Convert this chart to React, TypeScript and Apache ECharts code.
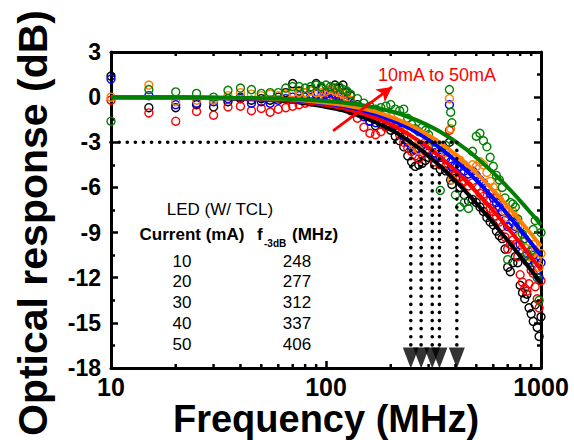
import React, { useEffect, useRef } from 'react';
import * as echarts from 'echarts';

// Measured frequencies (MHz)
const freqs = [
  10, 15, 20, 25, 30, 35, 40, 45, 50, 55,
  60, 65, 70, 75, 80, 85, 90, 95, 100, 105,
  110, 115, 120, 125, 130, 140, 150, 160, 170, 180,
  190, 200, 210, 220, 230, 240, 250, 260, 270, 280,
  290, 300, 320, 340, 360, 375, 380, 385, 400, 420,
  440, 460, 480, 500, 520, 540, 560, 580, 600, 620,
  640, 660, 680, 700, 720, 740, 760, 780, 800, 820,
  840, 860, 880, 900, 920, 940, 960, 980, 1000,
];

// Measured responses (dB) per drive current
const data10mA = [
  1.4, -0.7, -0.7, -0.5, -0.65, -0.3, -0.1, -0.2, -0.1, -0.2,
  0.0, 0.3, 0.9, 0.4, 0.3, 0.5, 0.9, 0.6, 0.4, 0.5,
  0.8, 0.6, 0.8, 0.3, 0.1, -0.5, -1.0, -1.6, -1.9, -1.8,
  -1.9, -2.2, -2.6, -2.9, -3.3, -3.9, -4.3, -4.6, -4.5, -4.4,
  -4.2, -4.0, -4.5, -4.8, -4.9, -3.0, -5.5, -5.8, -5.4, -6.0,
  -6.5, -6.9, -6.8, -7.0, -7.3, -7.6, -8.0, -8.3, -8.5, -8.9,
  -9.2, -9.4, -10.1, -11.3, -11.6, -11.0, -10.6, -11.0, -12.5, -13.0,
  -13.4, -13.1, -14.0, -14.4, -14.9, -13.8, -15.3, -15.9, -14.6,
];
const data20mA = [
  -0.2, -1.05, -1.6, -0.95, -1.2, -0.65, -0.6, -0.9, -0.75, -1.0,
  -0.8, -0.7, -0.6, -0.5, -0.4, -0.3, -0.2, -0.2, -0.1, 0.0,
  0.1, 0.1, -0.2, -0.6, -0.9, -1.4, -2.0, -2.4, -2.5, -2.3,
  -2.0, -1.9, -2.1, -2.5, -3.0, -3.4, -3.6, -3.9, -4.1, -3.8,
  -3.6, -3.7, -4.3, -4.5, -4.6, -2.2, -4.8, -5.2, -5.0, -5.3,
  -5.6, -5.9, -5.7, -6.0, -6.4, -6.6, -6.9, -7.4, -7.6, -7.9,
  -8.3, -8.6, -9.3, -10.1, -9.8, -9.5, -9.8, -10.6, -11.8, -12.3,
  -12.7, -12.9, -12.4, -11.5, -11.7, -12.6, -13.4, -14.0, -12.2,
];
const data30mA = [
  1.2, 0.1, -0.5, -0.4, -0.3, -0.1, 0.0, -0.4, -0.3, -0.4,
  -0.2, -0.1, 0.0, 0.1, 0.0, 0.1, 0.2, 0.1, 0.2, 0.3,
  0.2, 0.0, -0.1, -0.3, -0.5, -0.9, -1.3, -1.6, -1.7, -1.6,
  -1.5, -1.6, -1.9, -2.2, -2.6, -3.0, -3.3, -3.5, -3.4, -3.2,
  -3.0, -3.2, -3.7, -4.0, -4.1, -0.5, -4.3, -4.6, -4.5, -4.6,
  -4.9, -5.1, -4.9, -5.2, -5.5, -5.7, -6.0, -6.4, -6.7, -7.0,
  -7.3, -7.6, -8.2, -8.6, -8.4, -8.3, -8.6, -9.2, -9.8, -10.3,
  -10.6, -10.9, -10.8, -10.3, -10.5, -11.0, -11.5, -12.0, -11.0,
];
const data40mA = [
  0.0, 0.8, -0.3, -0.2, -0.2, 0.1, 0.3, 0.2, 0.1, 0.2,
  0.1, 0.2, 0.3, 0.3, 0.3, 0.4, 0.3, 0.3, 0.4, 0.5,
  0.4, 0.3, 0.2, 0.0, -0.2, -0.6, -1.0, -1.2, -1.3, -1.2,
  -1.1, -1.3, -1.6, -1.9, -2.3, -2.7, -3.0, -3.3, -3.5, -3.3,
  -3.0, -2.8, -3.3, -3.6, -3.7, -0.1, -2.1, -5.5, -4.0, -4.2,
  -4.5, -4.8, -4.5, -4.6, -4.3, -4.5, -5.0, -5.6, -6.0, -6.4,
  -6.8, -7.1, -7.6, -8.0, -7.8, -7.6, -8.0, -8.6, -9.2, -9.6,
  -10.0, -10.4, -10.6, -10.2, -9.8, -10.2, -10.8, -11.3, -10.4,
];
const data50mA = [
  -1.6, 0.5, 0.35, 0.25, 0.0, 0.45, 0.6, 0.5, 0.25, 0.3,
  0.3, 0.6, 0.7, 0.7, 0.6, 0.7, 0.8, 0.7, 0.8, 0.7,
  0.6, 0.7, 0.5, 0.4, 0.2, -0.1, -0.4, -0.6, -0.8, -0.7,
  -0.6, -0.5, -0.8, -0.9, -0.8, -1.4, -1.8, -2.1, -2.3, -2.0,
  -2.2, -2.5, -3.0, -6.2, -3.2, 0.5, -1.0, -1.7, -6.5, -7.3,
  -7.0, -7.4, -3.6, -2.6, -2.4, -2.9, -3.3, -4.0, -4.6, -5.2,
  -5.5, -6.0, -6.7, -10.8, -7.0, -7.1, -7.3, -8.1, -8.6, -9.1,
  -9.4, -10.4, -11.0, -10.2, -8.8, -8.2, -12.0, -13.5, -9.0,
];

// Fitted curves (dB)
const fitFreqs = [10, 20, 50, 100, 150, 200, 250, 300, 350, 400, 450, 500, 600, 700, 800, 900, 1000];
const fit10mA = [0, -0.03, -0.17, -0.65, -1.36, -2.17, -3.04, -3.91, -4.76, -5.57, -6.33, -7.05, -8.36, -9.53, -10.57, -11.51, -12.37];
const fit20mA = [0, -0.02, -0.14, -0.53, -1.12, -1.82, -2.59, -3.37, -4.14, -4.89, -5.61, -6.29, -7.55, -8.68, -9.7, -10.63, -11.47];
const fit30mA = [0, -0.02, -0.11, -0.42, -0.9, -1.5, -2.15, -2.84, -3.54, -4.22, -4.89, -5.52, -6.72, -7.81, -8.79, -9.69, -10.52];
const fit40mA = [0, -0.02, -0.09, -0.37, -0.78, -1.31, -1.9, -2.53, -3.18, -3.82, -4.45, -5.05, -6.2, -7.25, -8.22, -9.1, -9.91];
const fit50mA = [0, -0.01, -0.07, -0.26, -0.56, -0.94, -1.4, -1.89, -2.41, -2.95, -3.48, -4.01, -5.03, -5.99, -6.89, -7.72, -8.49];

// Table
const currents = [10, 20, 30, 40, 50];
const f3dB = [248, 277, 312, 337, 406];

// Axis
const xMinorTicks = [20, 30, 40, 50, 60, 70, 80, 90, 200, 300, 400, 500, 600, 700, 800, 900];
const yMin = -18;
const yMax = 3;
const yInterval = 3;

const FONT = '"Liberation Sans", Arial, Helvetica, sans-serif';

export default function App() {
  const ref = useRef<HTMLDivElement>(null);

  useEffect(() => {
    document.body.style.margin = '0';
    if (!ref.current) return;
    const chart = echarts.init(ref.current, null, { renderer: 'svg' });

    const colors = ['#000000', '#ff0000', '#0000ff', '#ff8000', '#008000'];
    const measured = [data10mA, data20mA, data30mA, data40mA, data50mA];
    const fits = [fit10mA, fit20mA, fit30mA, fit40mA, fit50mA];

    const scatterSeries = measured.map((d, k) => ({
      type: 'scatter',
      name: currents[k] + ' mA data',
      xAxisIndex: 0,
      yAxisIndex: 0,
      data: freqs.map((f, i) => [f, d[i]]),
      symbol: 'circle',
      symbolSize: 8,
      itemStyle: { color: 'rgba(255,255,255,0)', borderColor: colors[k], borderWidth: 1.4, opacity: 1 },
      z: 2,
    }));

    const fitSeries = fits.map((d, k) => ({
      type: 'line',
      name: currents[k] + ' mA fit',
      xAxisIndex: 0,
      yAxisIndex: 0,
      data: fitFreqs.map((f, i) => [f, d[i]]),
      showSymbol: false,
      smooth: true,
      lineStyle: { color: colors[k], width: 4 },
      z: 3,
    }));

    const dotStyle = { color: '#000', width: 3.6, type: [0.1, 8], cap: 'round' };

    const verticalSeries = f3dB.map((f) => ({
      type: 'line',
      data: [[f, -3], [f, -16.8]],
      showSymbol: false,
      lineStyle: dotStyle,
      z: 4,
    }));

    const option: any = {
      animation: false,
      grid: { left: 111, right: 33, top: 52, bottom: 72, containLabel: false },
      xAxis: [
        {
          type: 'log', logBase: 10, min: 10, max: 1000, position: 'bottom',
          axisLine: { show: true, onZero: false, lineStyle: { color: '#000', width: 3 } },
          axisTick: { show: true, inside: true, length: 7, lineStyle: { color: '#000', width: 2.5 } },
          axisLabel: {
            show: true, color: '#000', fontFamily: FONT, fontWeight: 'bold', fontSize: 25, margin: 6,
            formatter: (v: number) => String(Math.round(v)),
          },
          splitLine: { show: false },
        },
        {
          type: 'log', logBase: 10, min: 10, max: 1000, position: 'top',
          axisLine: { show: true, onZero: false, lineStyle: { color: '#000', width: 3 } },
          axisTick: { show: true, inside: true, length: 7, lineStyle: { color: '#000', width: 2.5 } },
          axisLabel: { show: false },
          splitLine: { show: false },
        },
      ],
      yAxis: [
        {
          type: 'value', min: yMin, max: yMax, interval: yInterval, position: 'left',
          axisLine: { show: true, onZero: false, lineStyle: { color: '#000', width: 3 } },
          axisTick: { show: true, inside: true, length: 7, lineStyle: { color: '#000', width: 2.5 } },
          minorTick: { show: true, splitNumber: 2, length: 4, lineStyle: { color: '#000', width: 2.5 } },
          axisLabel: { show: true, color: '#000', fontFamily: FONT, fontWeight: 'bold', fontSize: 23, margin: 10 },
          splitLine: { show: false },
        },
        {
          type: 'value', min: yMin, max: yMax, interval: yInterval, position: 'right',
          axisLine: { show: true, onZero: false, lineStyle: { color: '#000', width: 3 } },
          axisTick: { show: true, inside: true, length: 7, lineStyle: { color: '#000', width: 2.5 } },
          minorTick: { show: true, splitNumber: 2, length: 4, lineStyle: { color: '#000', width: 2.5 } },
          axisLabel: { show: false },
          splitLine: { show: false },
        },
      ],
      series: [
        ...scatterSeries,
        ...fitSeries,
        {
          type: 'line',
          name: '-3 dB',
          data: [[10, -3], [f3dB[f3dB.length - 1], -3]],
          showSymbol: false,
          lineStyle: dotStyle,
          z: 4,
          markLine: {
            silent: true,
            symbol: ['none', 'arrow'],
            symbolSize: [12, 15],
            label: { show: false },
            lineStyle: { color: '#ff0000', width: 2.8, type: 'solid' },
            data: [[{ coord: [107.8, -2.24] }, { coord: [202.8, 0.68] }]],
          },
        },
        ...verticalSeries,
        {
          type: 'scatter',
          data: f3dB.map((f) => [f, -17.33]),
          symbol: 'triangle',
          symbolRotate: 180,
          symbolSize: [16, 21],
          itemStyle: { color: '#000' },
          z: 5,
        },
        {
          type: 'custom',
          data: xMinorTicks.map((f) => [f, yMin]),
          encode: { x: 0, y: 1 },
          z: 6,
          clip: false,
          renderItem: (params: any, api: any) => {
            const f = api.value(0);
            const b = api.coord([f, yMin]);
            const t = api.coord([f, yMax]);
            return {
              type: 'group',
              children: [
                { type: 'line', shape: { x1: b[0], y1: b[1], x2: b[0], y2: b[1] - 4 }, style: { stroke: '#000', lineWidth: 2.5 } },
                { type: 'line', shape: { x1: t[0], y1: t[1], x2: t[0], y2: t[1] + 4 }, style: { stroke: '#000', lineWidth: 2.5 } },
              ],
            };
          },
        },
      ],
      graphic: [
        {
          type: 'text', x: 33, y: 223, rotation: Math.PI / 2,
          style: { text: 'Optical response (dB)', fill: '#000', font: `bold 41px ${FONT}`, textAlign: 'center', textVerticalAlign: 'middle' },
        },
        {
          type: 'text', x: 326, y: 419,
          style: { text: 'Frequency (MHz)', fill: '#000', font: `bold 38px ${FONT}`, textAlign: 'center', textVerticalAlign: 'middle' },
        },
        {
          type: 'text', x: 378, y: 75,
          style: { text: '10mA to 50mA', fill: '#ff0000', font: `18px ${FONT}`, textAlign: 'left', textVerticalAlign: 'middle' },
        },
        {
          type: 'text', x: 220, y: 209,
          style: { text: 'LED (W/ TCL)', fill: '#000', font: `17px ${FONT}`, textAlign: 'center', textVerticalAlign: 'middle' },
        },
        {
          type: 'text', x: 192, y: 234,
          style: { text: 'Current (mA)', fill: '#000', font: `bold 17px ${FONT}`, textAlign: 'center', textVerticalAlign: 'middle' },
        },
        {
          type: 'text', x: 257, y: 234,
          style: { text: 'f', fill: '#000', font: `bold 17px ${FONT}`, textAlign: 'left', textVerticalAlign: 'middle' },
        },
        {
          type: 'text', x: 264, y: 243,
          style: { text: '-3dB', fill: '#000', font: `bold 10px ${FONT}`, textAlign: 'left', textVerticalAlign: 'middle' },
        },
        {
          type: 'text', x: 292, y: 234,
          style: { text: '(MHz)', fill: '#000', font: `bold 17px ${FONT}`, textAlign: 'left', textVerticalAlign: 'middle' },
        },
        ...currents.map((c, i) => ({
          type: 'text', x: 182, y: 261 + i * 20.8,
          style: { text: String(c), fill: '#000', font: `17px ${FONT}`, textAlign: 'center', textVerticalAlign: 'middle' },
        })),
        ...f3dB.map((f, i) => ({
          type: 'text', x: 297, y: 261 + i * 20.8,
          style: { text: String(f), fill: '#000', font: `17px ${FONT}`, textAlign: 'center', textVerticalAlign: 'middle' },
        })),
      ],
    };

    chart.setOption(option);
    return () => chart.dispose();
  }, []);

  return <div ref={ref} style={{ width: 574, height: 440, background: '#fff' }} />;
}
